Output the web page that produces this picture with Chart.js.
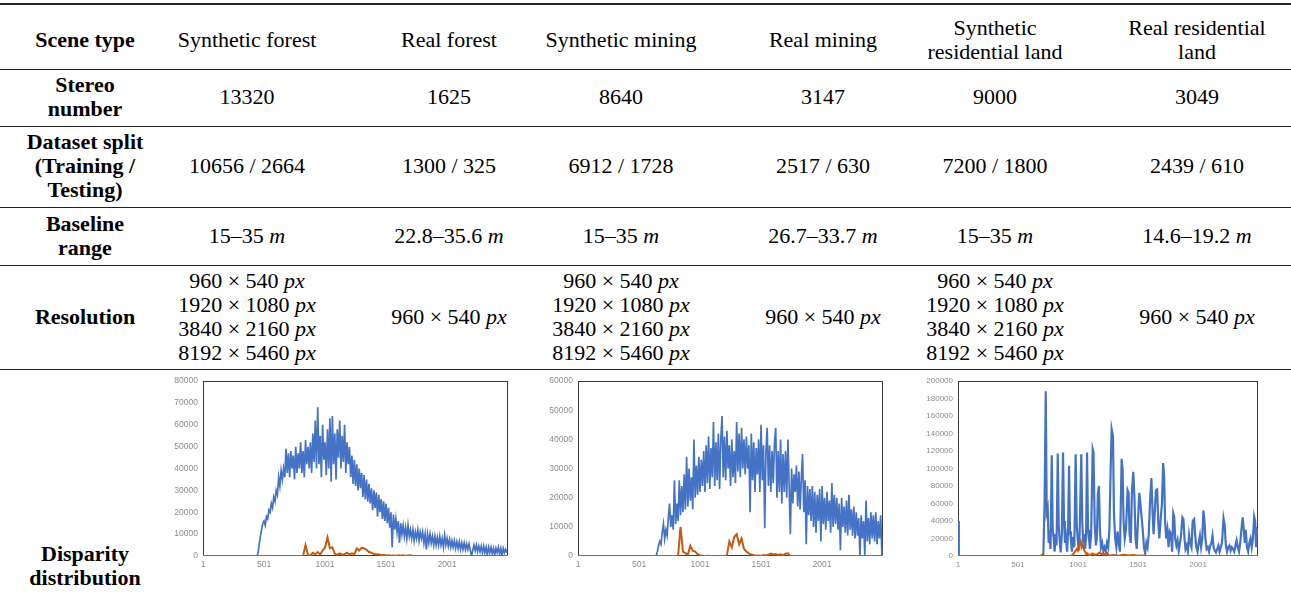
<!DOCTYPE html>
<html>
<head>
<meta charset="utf-8">
<script src="https://cdn.jsdelivr.net/npm/chart.js@4.4.1/dist/chart.umd.min.js"></script>
<style>
  html, body { margin: 0; padding: 0; background: #fff; }
  #page { position: relative; width: 1291px; height: 594px; overflow: hidden; background: #fff;
          font-family: "Liberation Serif", "Times New Roman", serif; font-size: 22px; color: #000; }
  .cell { position: absolute; text-align: center; line-height: 24px; white-space: nowrap; }
  .b { font-weight: bold; }
  .rule { position: absolute; left: 0; width: 1291px; background: #222; }
  .chartbox { position: absolute; }
  i { font-style: italic; }
</style>
</head>
<body>
<div id="page"></div>
<script>
// ---------------- Table content ----------------
const rowLabels = ["Scene type", "Stereo<br>number", "Dataset split<br>(Training /<br>Testing)", "Baseline<br>range", "Resolution", "Disparity<br>distribution"];
const sceneTypes = ["Synthetic forest", "Real forest", "Synthetic mining", "Real mining", "Synthetic<br>residential land", "Real residential<br>land"];
const stereoNumbers = ["13320", "1625", "8640", "3147", "9000", "3049"];
const datasetSplits = ["10656 / 2664", "1300 / 325", "6912 / 1728", "2517 / 630", "7200 / 1800", "2439 / 610"];
const baselineRanges = ["15–35 <i>m</i>", "22.8–35.6 <i>m</i>", "15–35 <i>m</i>", "26.7–33.7 <i>m</i>", "15–35 <i>m</i>", "14.6–19.2 <i>m</i>"];
const multiRes = "960 × 540 <i>px</i><br>1920 × 1080 <i>px</i><br>3840 × 2160 <i>px</i><br>8192 × 5460 <i>px</i>";
const singleRes = "960 × 540 <i>px</i>";
const resolutions = [multiRes, singleRes, multiRes, singleRes, multiRes, singleRes];

// ---------------- Chart data ----------------
const xTickLabels = [1, 501, 1001, 1501, 2001];
const binX = Array.from({length: 250}, (_, i) => 1 + 10 * i); // disparity bins (every 10th)

const forestSynthetic = [
  0,0,0,0,0,0,0,0,0,0, 0,0,0,0,0,0,0,0,0,0, 0,0,0,0,0,0,0,0,0,0, 0,0,0,0,0,0,0,0,0,0,
  0,0,0,0,0,1000,5000,9000,12000,15000,
  16000,14000,18000,17000,21000,20000,24000,22000,27000,25000,
  30000,28000,36000,32000,39000,35000,40000,36000,49000,38000,
  47000,36000,48000,40000,46000,35000,50000,38000,47000,40000,
  52000,38000,48000,36000,53000,42000,50000,40000,52000,38000,
  56000,43000,62000,40000,68000,42000,55000,36000,60000,44000,
  52000,37000,58000,40000,63000,34000,64000,42000,56000,35000,
  58000,45000,62000,40000,55000,43000,60000,38000,52000,42000,
  50000,36000,46000,33000,44000,32000,42000,30000,40000,31000,
  38000,27000,37000,26000,35000,25000,33000,24000,31000,21000,
  30000,22000,29000,18000,28000,20000,26000,17000,25000,16000,
  24000,15000,22000,13000,20000,4000,19000,12000,17000,11000,
  16000,6000,15000,10000,14000,9000,13000,8000,14000,9000,
  12000,8000,12000,7000,11000,8000,12000,7000,11000,8000,
  11000,6000,10000,3000,10000,6000,10000,6000,9000,5000,
  9000,5000,8500,5000,9000,5000,8000,4000,9500,5000,
  8000,4500,7500,4000,7000,4000,7000,3500,6500,3500,
  6500,3000,6000,3000,6000,3000,5500,3000,5500,2500,
  0,2500,5000,2500,5000,2000,4500,2000,4500,1500,
  4500,1500,4000,500,4000,1500,4000,1000,3500,500,
  3500,1500,4000,1000,3500,0,3500,1500,3000,1500
];
const forestRealX = [1,821,841,861,881,901,921,941,961,981,1001,1021,1041,1061,1081,1101,1121,1141,1161,1181,1201,1221,1241,1261,1281,1301,1321,1341,1361,1381,1401,1421,1441,1461,1481,1501,1521,1541,1561,1581,1601,1621,1641,1661,1681,1701,1721,2500];
const forestReal = [0,0,5000,500,300,1500,800,1800,700,2500,4000,8500,3500,4000,1000,500,1200,600,800,1500,700,1200,800,3500,2500,3800,3500,2800,1800,1500,900,700,800,400,500,200,300,100,200,0,300,100,300,0,200,300,0,0];

const miningSynthetic = [
  0,0,0,0,0,0,0,0,0,0, 0,0,0,0,0,0,0,0,0,0, 0,0,0,0,0,0,0,0,0,0, 0,0,0,0,0,0,0,0,0,0,
  0,0,0,0,0,0,0,0,0,0, 0,0,0,0,0,0,0,0,0,0,
  0,0,0,0,0,1500,3500,5000,4000,8000,
  11000,6000,9000,7000,13000,18000,10000,14000,9000,26000,
  11000,18000,12000,26000,14000,24000,15000,28000,16000,34000,
  17000,30000,19000,27000,16000,40000,20000,31000,21000,34000,
  22000,33000,24000,36000,22000,38000,25000,41000,23000,37000,
  27000,46000,24000,39000,26000,42000,23000,40000,48000,27000,
  41000,26000,43000,30000,38000,24000,40000,27000,36000,25000,
  46000,29000,42000,27000,44000,30000,40000,28000,41000,30000,
  38000,15000,42000,26000,39000,22000,37000,28000,40000,22000,
  45000,26000,38000,9500,36000,44000,24000,38000,22000,36000,
  25000,39000,44000,20000,36000,22000,40000,18000,35000,22000,
  36000,20000,40000,24000,7500,30000,18000,28000,22000,31000,
  17000,29000,16000,27000,35000,15000,26000,4000,24000,14000,
  23000,12000,24000,10000,22000,8000,21000,12000,23000,5000,
  24000,11000,20000,9000,22000,12000,19000,8000,25000,10000,
  21000,11000,20000,9000,18000,2000,20000,10000,17000,8000,
  19000,7000,21000,9000,16000,7000,17000,6000,15000,7000,
  13000,0,14000,6000,12000,0,19000,5000,13000,4000,
  15000,6000,14000,5000,15000,4000,12000,6000,14000,0
];
const miningRealX = [1,821,841,861,881,901,921,941,961,981,1001,1021,1041,1061,1081,1201,1221,1241,1261,1281,1301,1321,1341,1361,1381,1401,1421,1441,1461,1481,1501,1521,1541,1561,1581,1601,1621,1641,1661,1681,1701,1721,1741,2500];
const miningReal = [0,0,10000,1500,1000,400,3500,1800,1500,600,300,100,0,100,0,0,200,5000,3000,6500,7500,4000,6000,2500,1500,900,500,300,100,200,0,300,200,400,800,500,700,300,600,200,800,900,0,0];

const residSyntheticX = [1,8,700,712,722,732,740,748,756,764,772,782,790,798,806,814,822,832,840,848,856,866,876,884,892,900,910,918,926,934,942,950,960,970,981,990,998,1006,1014,1028,1036,1044,1052,1060,1068,1076,1084,1092,1100,1110,1123,1130,1140,1150,1158,1166,1175,1183,1192,1202,1212,1222,1232,1242,1252,1262,1272,1281,1292,1300,1310,1320,1330,1340,1350,1364,1372,1380,1390,1400,1414,1422,1430,1440,1450,1461,1470,1480,1490,1500,1511,1520,1530,1540,1550,1560,1570,1580,1590,1600,1612,1622,1630,1640,1650,1660,1669,1678,1688,1700,1710,1718,1726,1735,1745,1755,1765,1775,1785,1794,1802,1810,1820,1830,1840,1850,1860,1870,1879,1888,1896,1906,1916,1926,1936,1946,1956,1968,1976,1986,1996,2006,2016,2026,2036,2045,2054,2062,2072,2082,2092,2102,2112,2121,2130,2140,2150,2160,2170,2180,2190,2200,2213,2223,2232,2242,2252,2262,2272,2282,2292,2302,2312,2322,2332,2342,2352,2362,2372,2382,2390,2398,2408,2418,2428,2438,2448,2458,2468,2476,2484,2492,2500];
const residSynthetic = [40000,0,0,2000,60000,188000,50000,55000,15000,22000,8000,115000,30000,20000,5000,25000,12000,117000,35000,18000,4000,25000,118000,40000,15000,22000,5000,30000,103000,28000,18000,5000,22000,10000,116000,35000,20000,6000,25000,116000,40000,15000,25000,8000,22000,118000,30000,20000,8000,25000,122000,118000,35000,12000,22000,70000,80000,30000,10000,15000,5000,10000,6000,15000,10000,30000,95000,145000,137000,50000,20000,10000,28000,15000,5000,111000,100000,40000,20000,30000,75000,72000,25000,15000,74000,96000,70000,20000,8000,40000,72000,60000,45000,30000,10000,3000,15000,10000,25000,60000,89000,50000,25000,50000,75000,76000,40000,20000,40000,60000,106000,90000,40000,20000,30000,10000,28000,25000,5000,49000,45000,20000,12000,18000,6000,15000,25000,44000,42000,20000,8000,12000,5000,24000,15000,10000,40000,42000,25000,10000,5000,15000,23000,10000,20000,52000,40000,20000,8000,10000,5000,12000,15000,23000,10000,6000,4000,8000,12000,5000,10000,15000,43000,35000,12000,5000,10000,12000,6000,10000,8000,5000,12000,18000,10000,5000,15000,30000,44000,30000,15000,30000,10000,5000,15000,20000,10000,20000,45000,40000,10000,30000,28000];
const residRealX = [1,690,700,720,940,960,975,990,1000,1010,1023,1030,1040,1050,1060,1070,1080,1090,1100,1120,1140,1160,1180,1195,1210,1225,1240,1255,1270,1300,1340,1380,1420,1460,1500,1540,1580,2500];
const residReal = [0,0,1500,0,0,2000,5000,8000,6000,12000,17000,10000,13000,7000,5000,2000,3000,1000,500,3000,1500,2000,4000,2000,3500,1500,4000,1000,500,1000,300,1500,500,1200,300,500,0,0];

const yMaxes = [80000, 60000, 200000];
const ySteps = [10000, 10000, 20000];

// ---------------- Build table ----------------
const page = document.getElementById('page');
function cell(cx, cy, html, bold, lines) {
  const d = document.createElement('div');
  d.className = 'cell' + (bold ? ' b' : '');
  d.innerHTML = html;
  d.style.left = (cx - 150) + 'px';
  d.style.width = '300px';
  d.style.top = (cy - lines * 12) + 'px';
  page.appendChild(d);
}
function rule(y, h) {
  const d = document.createElement('div');
  d.className = 'rule';
  d.style.top = y + 'px';
  d.style.height = h + 'px';
  page.appendChild(d);
}
rule(3, 2); rule(69, 1); rule(126, 1); rule(207, 1); rule(265, 1); rule(369, 1);

const labelX = 85;
const colX = [247, 449, 621, 823, 995, 1197];
const rowY = [40, 97, 166, 236, 317, 566];
const lineCount = s => s.split('<br>').length;
rowLabels.forEach((t, r) => cell(labelX, rowY[r], t, true, lineCount(t)));
[sceneTypes, stereoNumbers, datasetSplits, baselineRanges, resolutions].forEach((row, r) => {
  row.forEach((t, c) => cell(colX[c], rowY[r], t, false, lineCount(t)));
});

// ---------------- Charts ----------------
const zip = (xs, ys) => xs.map((x, i) => ({x: x, y: ys[i]}));
const frame = {
  id: 'frame',
  beforeDatasetsDraw(chart) {
    const a = chart.chartArea, ctx = chart.ctx;
    ctx.save();
    ctx.strokeStyle = '#3a3a3a';
    ctx.lineWidth = 1;
    ctx.strokeRect(Math.round(a.left) + 0.5, Math.round(a.top) + 0.5, Math.round(a.right - a.left) - 1, Math.round(a.bottom - a.top) - 1);
    ctx.restore();
  }
};

const boxes = [
  {left: 163, top: 371, width: 350, height: 203, blue: zip(binX, forestSynthetic), orange: zip(forestRealX, forestReal), fs: 8.5, bw: 1.7},
  {left: 538, top: 371, width: 350, height: 203, blue: zip(binX, miningSynthetic), orange: zip(miningRealX, miningReal), fs: 8.5, bw: 1.7},
  {left: 918, top: 371, width: 345, height: 203, blue: zip(residSyntheticX, residSynthetic), orange: zip(residRealX, residReal), fs: 8, bw: 2.2}
];

boxes.forEach((b, k) => {
  const box = document.createElement('div');
  box.className = 'chartbox';
  box.style.left = b.left + 'px'; box.style.top = b.top + 'px';
  box.style.width = b.width + 'px'; box.style.height = b.height + 'px';
  const cv = document.createElement('canvas');
  box.appendChild(cv);
  page.appendChild(box);
  new Chart(cv, {
    type: 'line',
    data: {
      datasets: [
        {label: 'Real', data: b.orange, borderColor: '#C65911', borderWidth: 2, pointRadius: 0, tension: 0, order: 1},
        {label: 'Synthetic', data: b.blue, borderColor: '#4472C4', borderWidth: b.bw, pointRadius: 0, tension: 0, order: 2}
      ]
    },
    options: {
      responsive: true, maintainAspectRatio: false, animation: false, devicePixelRatio: 1,
      layout: {padding: {top: 0, right: 5, left: 0, bottom: 0}},
      plugins: {legend: {display: false}, tooltip: {enabled: false}},
      scales: {
        x: {
          type: 'linear', min: 1, max: 2500,
          grid: {display: false, drawTicks: false},
          border: {display: false},
          afterBuildTicks: s => { s.ticks = xTickLabels.map(v => ({value: v})); },
          afterFit: s => { s.height = 18; },
          ticks: {color: '#8c8c8c', font: {family: 'Liberation Sans', size: b.fs}, padding: 4, maxRotation: 0, autoSkip: false,
                  callback: v => String(v)}
        },
        y: {
          min: 0, max: yMaxes[k],
          grid: {display: false, drawTicks: false},
          border: {display: false},
          afterFit: s => { s.width = 40; },
          ticks: {stepSize: ySteps[k], color: '#8c8c8c', font: {family: 'Liberation Sans', size: b.fs}, padding: 5,
                  callback: v => String(v)}
        }
      }
    },
    plugins: [frame]
  });
});
</script>
</body>
</html>
